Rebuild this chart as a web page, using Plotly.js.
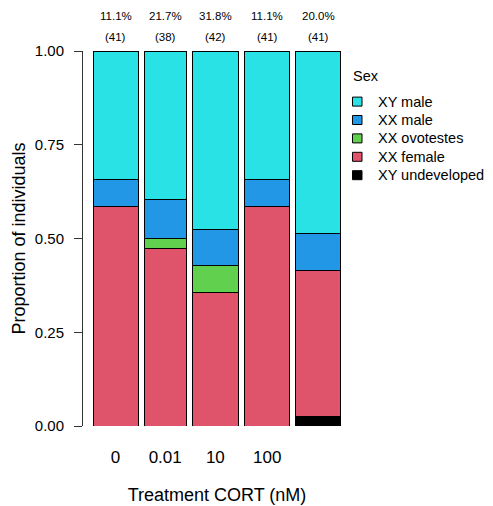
<!DOCTYPE html>
<html>
<head>
<meta charset="utf-8">
<script src="https://cdn.plot.ly/plotly-3.0.1.min.js"></script>
<style>html,body{margin:0;padding:0;background:#fff;}#chart{width:493px;height:506px;}</style>
</head>
<body>
<div id="chart"></div>
<script>
// Treatment groups (tick labels; last group unlabeled in original)
const groups = ['0', '0.01', '10', '100', ''];
// Counts of individuals per sex category, per treatment group
const xyUndeveloped = [0, 0, 0, 0, 1];
const xxFemale      = [24, 18, 15, 24, 16];
const xxOvotestes   = [0, 1, 3, 0, 0];
const xxMale        = [3, 4, 4, 3, 4];
const xyMale        = [14, 15, 20, 14, 20];

const series = [
  {name: 'XY undeveloped', counts: xyUndeveloped, color: '#000000'},
  {name: 'XX female',      counts: xxFemale,      color: '#DF536B'},
  {name: 'XX ovotestes',   counts: xxOvotestes,   color: '#61D04F'},
  {name: 'XX male',        counts: xxMale,        color: '#2297E6'},
  {name: 'XY male',        counts: xyMale,        color: '#28E2E5'}
];

const totals = groups.map((g, i) => series.reduce((s, t) => s + t.counts[i], 0));
// sex-reversal rate among XX: (XX male + ovotestes) / all XX
const pctLabels = groups.map((g, i) => {
  const rev = xxMale[i] + xxOvotestes[i];
  const all = rev + xxFemale[i];
  return (100 * rev / all).toFixed(1) + '%';
});

// spine-plot layout: bar width proportional to group size
const gap = 5.6;
const pad = 9.1;
const centers = [];
let cum = 0;
totals.forEach((n, i) => { centers.push(cum + n / 2); cum += n + gap; });
const xEnd = cum - gap;

const font = 'Liberation Sans, Arial, Helvetica, sans-serif';

// plot area geometry (pixels) used to place the hand-built legend
const W = 493, H = 506;
const M = {l: 83, r: 142, t: 51, b: 80};
const pw = W - M.l - M.r, ph = H - M.t - M.b;
const px2x = px => (px - M.l) / pw;
const py2y = py => (H - M.b - py) / ph;

const traces = series.map(s => ({
  type: 'bar',
  name: s.name,
  x: centers,
  y: s.counts.map((c, i) => c === 0 ? null : c / totals[i]),
  width: totals,
  marker: {color: s.color, line: {color: '#000000', width: 1}},
  showlegend: false,
  hoverinfo: 'name+y'
}));

const annotations = [];
centers.forEach((c, i) => {
  annotations.push({x: c, xref: 'x', y: 1, yref: 'paper', yanchor: 'middle', yshift: 35, text: pctLabels[i],
    showarrow: false, font: {family: font, size: 11.5, color: '#000'}});
  annotations.push({x: c, xref: 'x', y: 1, yref: 'paper', yanchor: 'middle', yshift: 14, text: '(' + totals[i] + ')',
    showarrow: false, font: {family: font, size: 11.5, color: '#000'}});
});

// legend (top entry = top of stack)
const shapes = [];
const legendSeries = series.slice().reverse();
annotations.push({x: px2x(351), xref: 'paper', y: py2y(75.5), yref: 'paper', xanchor: 'left', yanchor: 'middle',
  text: 'Sex', showarrow: false, font: {family: font, size: 14.5, color: '#000'}});
legendSeries.forEach((s, k) => {
  const cy = 101.6 + k * 18.4;
  shapes.push({type: 'rect', xref: 'paper', yref: 'paper',
    x0: px2x(352.5), x1: px2x(362), y0: py2y(cy + 4.5), y1: py2y(cy - 4.5),
    fillcolor: s.color, line: {color: '#000', width: 1}});
  annotations.push({x: px2x(376), xref: 'paper', y: py2y(cy), yref: 'paper', xanchor: 'left', yanchor: 'middle',
    text: s.name, showarrow: false, font: {family: font, size: 14.5, color: '#000'}});
});

const layout = {
  width: W, height: H,
  margin: Object.assign({autoexpand: false}, M),
  paper_bgcolor: '#fff', plot_bgcolor: '#fff',
  barmode: 'stack',
  font: {family: font, color: '#000'},
  showlegend: false,
  xaxis: {
    range: [-pad, xEnd + pad],
    tickmode: 'array', tickvals: centers, ticktext: groups,
    showline: false, zeroline: false, showgrid: false, ticks: '',
    ticklabelstandoff: 19,
    tickfont: {family: font, size: 17, color: '#000'},
    title: {text: 'Treatment CORT (nM)', font: {family: font, size: 18, color: '#000'}, standoff: 22}
  },
  yaxis: {
    range: [0, 1],
    tickmode: 'array', tickvals: [0, 0.25, 0.5, 0.75, 1], ticktext: ['0.00', '0.25', '0.50', '0.75', '1.00'],
    showline: true, linecolor: '#333', linewidth: 1,
    ticks: 'outside', ticklen: 8, tickcolor: '#333',
    ticklabelstandoff: 7,
    zeroline: false, showgrid: false,
    tickfont: {family: font, size: 15, color: '#000'},
    title: {text: 'Proportion of individuals', font: {family: font, size: 18, color: '#000'}, standoff: 4}
  },
  annotations: annotations,
  shapes: shapes
};

Plotly.newPlot('chart', traces, layout, {displayModeBar: false, staticPlot: true});
</script>
</body>
</html>
